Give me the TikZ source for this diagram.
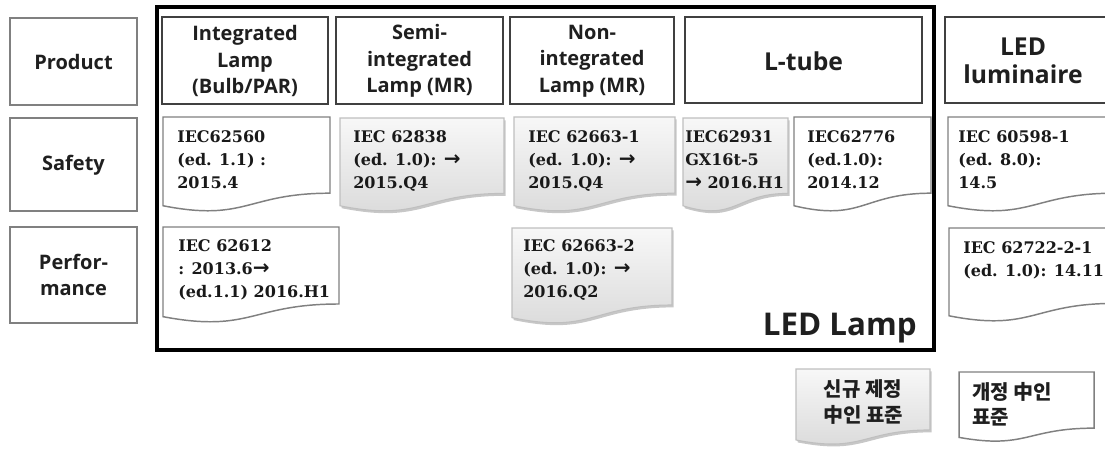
\documentclass[tikz,border=0pt]{standalone}
\usepackage{fontspec}
\setmainfont{Open Sans}[BoldFont={Open Sans Bold}]
\newfontfamily\docf{DejaVu Serif}
\newfontfamily\arrf{DejaVu Sans}
\newfontfamily\krf{Noto Sans CJK KR}
\usetikzlibrary{shadows}
\newcommand\arr{{\arrf\bfseries\fontsize{15}{15}\selectfont →}}
\newcommand\docshape[5]{\path[#1] (#2,#4) -- (#3,#4) -- (#3,{#4+0.802*#5}) .. controls ({(#2+#3)/2},{#4+0.802*#5}) and ({(#2+#3)/2},{#4+1.107*#5}) .. (#2,{#4+0.934*#5}) -- cycle;}
\tikzset{
 lab/.style={draw=black!50, line width=2.2pt, fill=white},
 hdr/.style={draw=black!75, line width=1.5pt, fill=white},
 htext/.style={font=\fontsize{15}{20}\selectfont\bfseries, align=center, text=black!88, inner sep=0},
 bigtext/.style={font=\fontsize{18.5}{21}\selectfont\bfseries, align=center, text=black!88, inner sep=0},
 dtext/.style={font=\docf\fontsize{12}{17.25}\selectfont\bfseries, align=left, anchor=north west, inner sep=0, text=black!90},
 wdoc/.style={draw=black!50, line width=1.1pt, fill=white},
 gdoc/.style={draw=black!25, line width=0.8pt, top color=black!3, bottom color=black!15,
   drop shadow={shadow xshift=1.2pt, shadow yshift=-1.8pt, opacity=0.22, fill=black}},
 ktext/.style={font=\krf\fontsize{15}{19}\selectfont\bfseries, text=black!88, inner sep=0},
}
\begin{document}
\begin{tikzpicture}[x=0.75pt,y=-0.75pt]
\useasboundingbox (0,0) rectangle (1105,450);
\clip (0,0) rectangle (1105,450);
\fill[white] (0,0) rectangle (1105,450);
% row labels
\draw[lab] (10,18) rectangle (137,105);
\node[htext] (product) at (73.5,62) {Product};
\draw[lab] (10,118) rectangle (137,211);
\node[htext] (safety) at (73.5,165) {Safety};
\draw[lab] (10,227) rectangle (137,323);
\node[htext] (perf) at (73.5,275) {Perfor-\\mance};
% LED lamp frame
\draw[line width=3pt, black] (157,7) rectangle (934,350);
\node[font=\fontsize{23.5}{26}\selectfont\bfseries, text=black!88, anchor=base east, inner sep=0] (ledlamp) at (917,335) {LED Lamp};
% headers
\draw[hdr] (162,17) rectangle (328,104);
\node[htext] (h1) at (245,61) {Integrated\\Lamp\\(Bulb/PAR)};
\draw[hdr] (336,17) rectangle (503,104);
\node[htext] (h2) at (419.5,61) {Semi-\\integrated\\Lamp (MR)};
\draw[hdr] (510,17) rectangle (674,104);
\node[htext] (h3) at (592,61) {Non-\\integrated\\Lamp (MR)};
\draw[hdr] (685,17) rectangle (922,103);
\node[bigtext] (h4) at (803.5,61) {L-tube};
\draw[hdr] (945,17) rectangle (1115,103);
\node[bigtext] (h5) at (1023,61) {LED\\luminaire};
% safety row
\docshape{wdoc}{163}{330}{117}{95}
\node[dtext] (d1) at (177,130.5) {IEC62560\\(ed. 1.1) :\\2015.4};
\docshape{gdoc}{340}{504}{118}{94}
\node[dtext] (d2) at (353,130.5) {IEC 62838\\(ed. 1.0): \arr\\2015.Q4};
\docshape{gdoc}{514}{675}{117}{95}
\node[dtext] (d3) at (528,130.5) {IEC 62663-1\\(ed. 1.0): \arr\\2015.Q4};
\docshape{gdoc}{683}{788}{118}{94}
\node[dtext] (d4) at (685,130.5) {IEC62931\\GX16t-5\\\arr\ 2016.H1};
\docshape{wdoc}{794}{931}{117}{95}
\node[dtext] (d5) at (807,130.5) {IEC62776\\(ed.1.0):\\2014.12};
\docshape{wdoc}{948}{1115}{117}{95}
\node[dtext] (d6) at (958,130.5) {IEC 60598-1\\(ed. 8.0):\\14.5};
% performance row
\docshape{wdoc}{163}{339}{227}{96}
\node[dtext] (d7) at (178,239.5) {IEC 62612\\: 2013.6\arr\\(ed.1.1) 2016.H1};
\docshape{gdoc}{512}{672}{228}{96}
\node[dtext] (d8) at (523,239.5) {IEC 62663-2\\(ed. 1.0): \arr\\2016.Q2};
\docshape{wdoc}{949}{1115}{228}{94}
\node[dtext] (d9) at (963,241.5) {IEC 62722-2-1\\(ed. 1.0): 14.11};
% legend
\docshape{gdoc}{796}{930}{369}{76}
\node[ktext, align=center] (lg1) at (863,402) {신규 제정\\中인 표준};
\docshape{wdoc}{959}{1094}{372}{70}
\node[ktext, align=left, anchor=west] (lg2) at (972,404) {개정 中인\\표준};
\end{tikzpicture}
\end{document}
